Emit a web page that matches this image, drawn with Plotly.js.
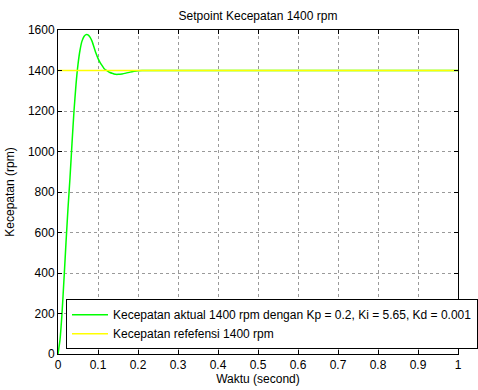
<!DOCTYPE html>
<html>
<head>
<meta charset="utf-8">
<script src="https://cdn.plot.ly/plotly-3.0.1.min.js"></script>
<style>html,body{margin:0;padding:0;background:#fff;}</style>
</head>
<body>
<div id="chart" style="width:478px;height:390px;"></div>
<script>
// Time samples (seconds)
var timeActual = [0, 0.005, 0.01, 0.015, 0.02, 0.025, 0.03, 0.035, 0.04, 0.045, 0.05, 0.055, 0.06, 0.065, 0.07, 0.075, 0.08, 0.085, 0.09, 0.095, 0.1, 0.105, 0.11, 0.115, 0.12, 0.125, 0.13, 0.135, 0.14, 0.145, 0.15, 0.16, 0.17, 0.18, 0.19, 0.2, 0.21, 0.3, 0.4, 0.5, 0.6, 0.7, 0.8, 0.9, 1.0];
// Actual speed (rpm), Kp = 0.2, Ki = 5.65, Kd = 0.001
var speedActual = [0, 70, 200, 370, 550, 720, 870, 1040, 1200, 1330, 1430, 1500, 1545, 1568, 1577, 1576, 1565, 1545, 1515, 1485, 1460, 1440, 1425, 1410, 1402, 1396, 1390, 1386, 1383, 1381, 1381, 1383, 1387, 1392, 1396, 1399, 1400, 1400, 1400, 1400, 1400, 1400, 1400, 1400, 1400];
// Reference speed (rpm)
var timeRef = [0, 1];
var speedRef = [1400, 1400];
var yTicks = [0, 200, 400, 600, 800, 1000, 1200, 1400, 1600];
var xTicks = [0, 0.1, 0.2, 0.3, 0.4, 0.5, 0.6, 0.7, 0.8, 0.9, 1];
var xTickText = ['0', '0.1', '0.2', '0.3', '0.4', '0.5', '0.6', '0.7', '0.8', '0.9', '1'];

var fontFam = '"Liberation Sans", Arial, sans-serif';
var fs = 12;

var traces = [
  {x: timeActual, y: speedActual, mode: 'lines', type: 'scatter',
   name: 'Kecepatan aktual 1400 rpm dengan Kp = 0.2, Ki = 5.65, Kd = 0.001',
   line: {color: '#00ff00', width: 1.5, shape: 'spline', smoothing: 0.5}},
  {x: timeRef, y: speedRef, mode: 'lines', type: 'scatter',
   name: 'Kecepatan refefensi 1400 rpm',
   line: {color: '#ffff00', width: 1.5}}
];

var axisCommon = {
  showline: true, linecolor: '#000', linewidth: 1, mirror: 'ticks',
  ticks: 'inside', ticklen: 4, tickcolor: '#000',
  showgrid: true, gridcolor: '#9a9a9a', griddash: 'dot', gridwidth: 1,
  zeroline: false, automargin: false, tickfont: {family: fontFam, size: fs, color: '#000'}
};

var layout = {
  width: 478, height: 390,
  margin: {l: 58, r: 20, t: 30, b: 36, autoexpand: false},
  paper_bgcolor: '#fff', plot_bgcolor: '#fff',
  font: {family: fontFam, size: fs, color: '#000'},
  title: {text: 'Setpoint Kecepatan 1400 rpm', font: {family: fontFam, size: fs, color: '#000'},
          x: 0.5, xref: 'paper', y: 1 - 16/390, yanchor: 'middle'},
  xaxis: Object.assign({}, axisCommon, {
    range: [0, 1], tickvals: xTicks, ticktext: xTickText,
    title: {text: 'Waktu (second)', font: {family: fontFam, size: fs, color: '#000'}, standoff: 3}
  }),
  yaxis: Object.assign({}, axisCommon, {
    range: [0, 1600], tickvals: yTicks,
    title: {text: 'Kecepatan (rpm)', font: {family: fontFam, size: fs, color: '#000'}, standoff: 10}
  }),
  showlegend: true,
  legend: {x: 0.02, y: 0.015, xanchor: 'left', yanchor: 'bottom',
           bgcolor: '#fff', bordercolor: '#000', borderwidth: 1,
           font: {family: fontFam, size: fs, color: '#000'},
           tracegroupgap: 0, itemwidth: 36}
};

Plotly.newPlot('chart', traces, layout, {staticPlot: true, displayModeBar: false});
</script>
</body>
</html>
